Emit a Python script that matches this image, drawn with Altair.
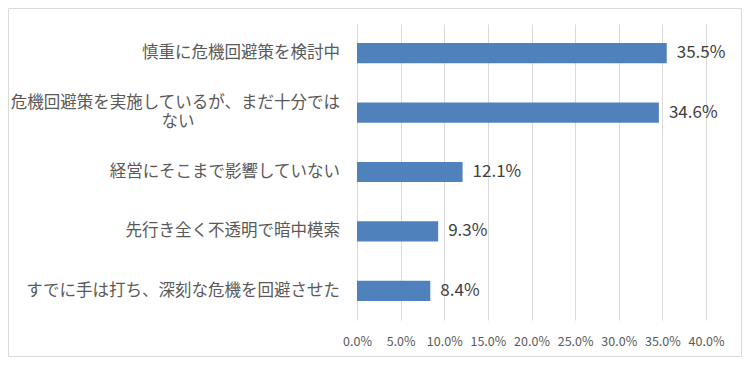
import altair as alt
import pandas as pd

categories = [
    "慎重に危機回避策を検討中",
    "危機回避策を実施しているが、まだ十分では\nない",
    "経営にそこまで影響していない",
    "先行き全く不透明で暗中模索",
    "すでに手は打ち、深刻な危機を回避させた",
]
values = [0.355, 0.346, 0.121, 0.093, 0.084]
x_ticks = [0, 0.05, 0.10, 0.15, 0.20, 0.25, 0.30, 0.35, 0.40]

df = pd.DataFrame({"cat": categories, "val": values})
FONT = "Noto Sans CJK JP"
LABEL_COLOR = "#595959"
LABEL_SIZE = 16.5

y_enc = alt.Y(
    "cat:N",
    sort=categories,
    title=None,
    scale=alt.Scale(paddingInner=0.66, paddingOuter=0.32),
    axis=alt.Axis(ticks=False, domain=False, labels=False),
)
x_enc = alt.X(
    "val:Q",
    title=None,
    scale=alt.Scale(domain=[0, 0.40], nice=False),
    axis=alt.Axis(
        values=x_ticks,
        format=".1%",
        ticks=False,
        domain=False,
        grid=True,
        gridColor="#d9d9d9",
        gridWidth=1,
        labelPadding=15,
        labelOverlap=False,
        labelFlush=False,
        labelFont=FONT,
        labelFontSize=12.5,
        labelColor=LABEL_COLOR,
    ),
)

base = alt.Chart(df)
bars = base.mark_bar(color="#4F81BD").encode(x=x_enc, y=y_enc)
values_text = base.mark_text(
    align="left", baseline="middle", dx=10, font=FONT, fontSize=17, color="#404040"
).encode(x="val:Q", y=alt.Y("cat:N", sort=categories), text=alt.Text("val:Q", format=".1%"))

lab = base.transform_calculate(
    parts="split(datum.cat, '\\n')"
).transform_calculate(
    line1="datum.parts[0]",
    line2="length(datum.parts) > 1 ? datum.parts[1] : ''",
    nlines="length(datum.parts)",
)
y_lab = alt.Y("cat:N", sort=categories)
text_style = dict(baseline="middle", font=FONT, fontSize=LABEL_SIZE, color=LABEL_COLOR)

single = lab.transform_filter("datum.nlines == 1").mark_text(
    align="right", **text_style
).encode(x=alt.value(-17), y=y_lab, text="line1:N")
multi1 = lab.transform_filter("datum.nlines == 2").mark_text(
    align="right", dy=-9.5, **text_style
).encode(x=alt.value(-17), y=y_lab, text="line1:N")
multi2 = lab.transform_filter("datum.nlines == 2").mark_text(
    align="center", dy=9.5, **text_style
).encode(x=alt.value(-179), y=y_lab, text="line2:N")

border = alt.Chart(pd.DataFrame({"a": [0]})).mark_rect(
    fill=None, stroke="#d9d9d9", strokeWidth=1
).encode(
    x=alt.value(-348.5), x2=alt.value(384.5), y=alt.value(-15.5), y2=alt.value(332.5)
)

chart = (
    alt.layer(border, bars, values_text, single, multi1, multi2)
    .properties(
        width=349,
        height=296,
        autosize=alt.AutoSizeParams(type="none"),
        padding={"left": 349, "top": 16, "right": 36, "bottom": 37},
        background="white",
    )
    .configure_view(stroke=None)
)

chart.save("out.html", embed_options={"renderer": "svg", "actions": False})
